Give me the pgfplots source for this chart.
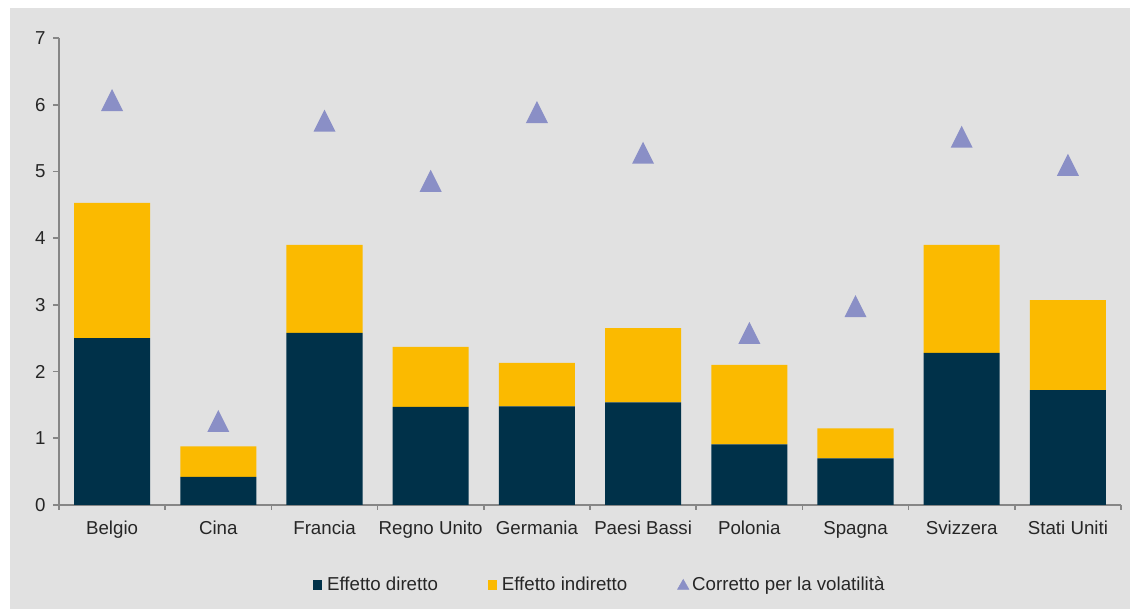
\documentclass[border=0pt]{standalone}
\usepackage{pgfplots}
\pgfplotsset{compat=1.18}
\usepackage{pgfplotstable}
\usepackage{fontspec}
\setmainfont{Liberation Sans}
\definecolor{navy}{HTML}{003149}
\definecolor{gold}{HTML}{FBBA00}
\definecolor{tri}{HTML}{8A8FC6}
\definecolor{bg}{HTML}{E1E1E1}
\definecolor{axgray}{HTML}{868686}
\definecolor{txt}{HTML}{262626}
\pgfdeclareplotmark{xtri}{%
  \pgfpathmoveto{\pgfqpoint{0pt}{11pt}}%
  \pgfpathlineto{\pgfqpoint{-11pt}{-11pt}}%
  \pgfpathlineto{\pgfqpoint{11pt}{-11pt}}%
  \pgfpathclose\pgfusepathqfill}
\pgfplotstableread{
x direct indirect vol
0 2.50 2.03 6.07
1 0.42 0.46 1.26
2 2.58 1.32 5.76
3 1.47 0.90 4.86
4 1.48 0.65 5.89
5 1.54 1.11 5.28
6 0.91 1.19 2.58
7 0.70 0.45 2.98
8 2.28 1.62 5.52
9 1.72 1.35 5.10
}\data
\begin{document}
\begin{tikzpicture}[x=1pt,y=1pt]
\fill[white] (0,0) rectangle (1130,609);
\fill[bg] (10,0) rectangle (1130,601);
\pgfplotsset{common/.style={
  at={(59pt,104pt)}, anchor=south west,
  scale only axis, width=1062pt, height=467pt,
  xmin=-0.5, xmax=9.5, ymin=0, ymax=7, clip=false}}
\begin{axis}[common,
  ybar stacked, bar width=0.716,
  axis lines*=left,
  axis line style={axgray, line width=1.6pt},
  tick align=outside,
  tick style={axgray, line width=1.6pt},
  major tick length=6pt,
  minor tick length=5pt,
  ytick={0,...,7},
  xtick={0,...,9},
  minor xtick={-0.5,0.5,...,9.5},
  major x tick style={draw=none},
  xticklabels={Belgio,Cina,Francia,Regno Unito,Germania,Paesi Bassi,Polonia,Spagna,Svizzera,Stati Uniti},
  tick label style={font=\fontsize{18.7}{22}\selectfont, text=txt},
  yticklabel style={xshift=-4pt},
  xticklabel style={yshift=-9pt, text height=2.0ex, text depth=0.5ex},
  /pgf/number format/assume math mode=true,
]
\addplot[fill=navy, draw=none] table[x=x,y=direct]{\data};
\addplot[fill=gold, draw=none] table[x=x,y=indirect]{\data};
\end{axis}
\begin{axis}[common, hide axis,
  legend columns=3,
  legend style={at={(axis description cs:0.509,-0.171)}, anchor=center,
    draw=none, fill=none, font=\fontsize{18.7}{22}\selectfont, text=txt,
    /tikz/every even column/.append style={column sep=48pt}},
  legend cell align=left,
]
\addlegendimage{legend image code/.code={\fill[navy] (0pt,-4pt) rectangle (8.5pt,4.5pt); \path (12pt,0pt);}}
\addlegendentry{Effetto diretto}
\addlegendimage{legend image code/.code={\fill[gold] (0pt,-4pt) rectangle (8.5pt,4.5pt); \path (11.5pt,0pt);}}
\addlegendentry{Effetto indiretto}
\addlegendimage{legend image code/.code={\fill[tri] (0pt,-4.5pt) -- (11.5pt,-4.5pt) -- (5.75pt,5.5pt) -- cycle; \path (12.5pt,0pt);}}
\addlegendentry{Corretto per la volatilità}
\addplot[only marks, mark=xtri, color=tri, forget plot] table[x=x,y=vol]{\data};
\end{axis}
\end{tikzpicture}
\end{document}
